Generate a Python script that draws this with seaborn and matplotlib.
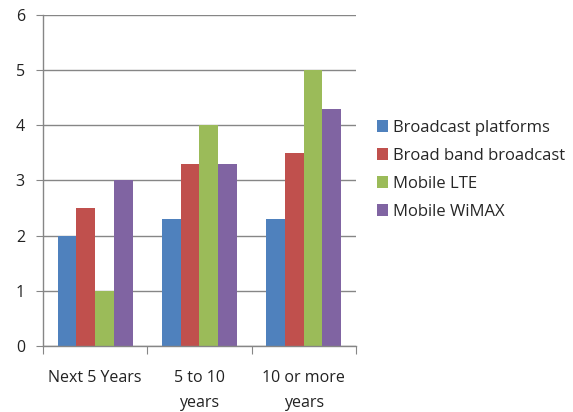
import matplotlib
matplotlib.use('Agg')
import pandas as pd
import matplotlib.pyplot as plt
import seaborn as sns

# --- Datos ---
periodos = ["Next 5 Years", "5 to 10\nyears", "10 or more\nyears"]
series = ["Broadcast platforms", "Broad band broadcast", "Mobile LTE", "Mobile WiMAX"]
broadcast_platforms = [2, 2.3, 2.3]
broad_band_broadcast = [2.5, 3.3, 3.5]
mobile_lte = [1, 4, 5]
mobile_wimax = [3, 3.3, 4.3]
colores = ["#4F81BD", "#C0504D", "#9BBB59", "#8064A2"]

valores = [broadcast_platforms, broad_band_broadcast, mobile_lte, mobile_wimax]
filas = []
for s, vals in zip(series, valores):
    for p, v in zip(periodos, vals):
        filas.append({"Periodo": p, "Serie": s, "Valor": v})
df = pd.DataFrame(filas)

sns.set_style("white")
plt.rcParams['font.family'] = ['Open Sans', 'DejaVu Sans']

fig = plt.figure(figsize=(5.73, 4.12), dpi=100)
ax = fig.add_axes([0.075, 0.160, 0.546, 0.804])

sns.barplot(data=df, x="Periodo", y="Valor", hue="Serie", hue_order=series,
            order=periodos, palette=colores, width=0.72, saturation=1,
            linewidth=0, ax=ax, legend=True)

ax.set_ylim(0, 6)
ax.set_xlim(-0.5, 2.5)
ax.set_yticks(range(0, 7))
ax.yaxis.grid(True, color="#868686", linewidth=1)
ax.set_axisbelow(True)

ax.set_xticks([-0.5, 0.5, 1.5, 2.5])
ax.set_xticklabels([])
ax.set_xticks([0, 1, 2], minor=True)
ax.set_xticklabels(periodos, minor=True, fontsize=11.5, color="#222222", linespacing=1.75)
ax.tick_params(axis="x", which="major", direction="out", length=6, color="#868686", bottom=True)
ax.tick_params(axis="x", which="minor", length=0, pad=17)
ax.tick_params(axis="y", direction="out", length=5, color="#868686", left=True,
               labelsize=11.5, labelcolor="#222222", pad=8)

for lado in ["top", "right"]:
    ax.spines[lado].set_visible(False)
for lado in ["left", "bottom"]:
    ax.spines[lado].set_color("#868686")
    ax.spines[lado].set_linewidth(1)

ax.set_xlabel("")
ax.set_ylabel("")

handles, labels = ax.get_legend_handles_labels()
ax.get_legend().remove()
fig.legend(handles, labels, loc="center left", bbox_to_anchor=(0.637, 0.587),
           frameon=False, fontsize=12, handlelength=0.7, handleheight=0.7,
           handletextpad=0.3, labelspacing=0.72, borderpad=0.2)

plt.savefig("out.png", dpi=100)
plt.close()
